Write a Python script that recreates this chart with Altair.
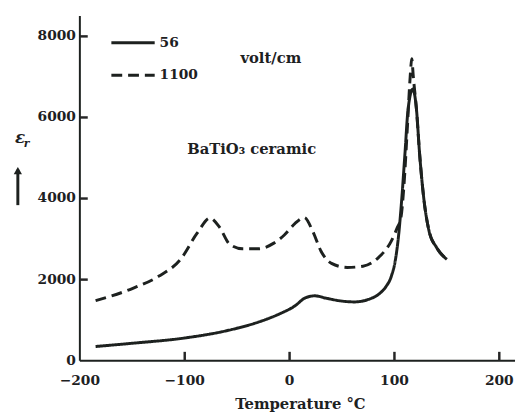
import altair as alt
import pandas as pd

# ---- data ----
temp_56 = [-185, -150, -100, -60, -30, -10, 5, 15, 24, 35, 50, 62, 75, 85, 92, 97, 101, 104, 107, 110, 113, 117.5, 121, 124, 128, 133, 140, 150]
eps_56 = [350, 430, 560, 740, 950, 1150, 1350, 1550, 1600, 1540, 1470, 1450, 1510, 1640, 1830, 2080, 2500, 3100, 4000, 5100, 6200, 6700, 6200, 5100, 4000, 3200, 2800, 2500]

temp_1100 = [-185, -150, -125, -104, -88, -76, -67, -57, -45, -30, -15, -5, 5, 14, 22, 30, 40, 55, 70, 85, 97, 103, 106, 109, 112, 115, 116.5, 118, 121, 124, 128, 133, 140, 150]
eps_1100 = [1480, 1780, 2080, 2500, 3150, 3520, 3300, 2870, 2760, 2760, 2900, 3100, 3380, 3530, 3200, 2700, 2400, 2300, 2330, 2550, 2950, 3300, 3500, 4300, 5600, 7000, 7450, 7000, 6200, 5100, 4000, 3200, 2800, 2500]

x_ticks = [-200, -100, 0, 100, 200]
y_ticks = [0, 2000, 4000, 6000, 8000]
x_inner_ticks = [-100, 0, 100, 200]
y_inner_ticks = [2000, 4000, 6000, 8000]
x_title = "Temperature °C"

INK = "#1d211f"
FONT = "DejaVu Serif"
W, H = 442, 350
X_DOM = [-200, 215]
Y_DOM = [0, 8500]
PX_Y = (Y_DOM[1] - Y_DOM[0]) / H   # y data units per pixel
PX_X = (X_DOM[1] - X_DOM[0]) / W   # x data units per pixel

df = pd.concat([
    pd.DataFrame({"T": temp_56, "eps": eps_56, "field": "56"}),
    pd.DataFrame({"T": temp_1100, "eps": eps_1100, "field": "1100"}),
])

xscale = alt.Scale(domain=X_DOM, nice=False, zero=False)
yscale = alt.Scale(domain=Y_DOM, nice=False, zero=False)

curves = alt.Chart(df).mark_line(color=INK, strokeWidth=3, interpolate="monotone").encode(
    x=alt.X("T:Q", scale=xscale, axis=None),
    y=alt.Y("eps:Q", scale=yscale, axis=None),
    strokeDash=alt.StrokeDash("field:N", scale=alt.Scale(domain=["56", "1100"], range=[[1, 0], [11, 6]]), legend=None),
    detail="field:N",
)

# ---- axes drawn through the scales ----
x_dom_line = alt.Chart(pd.DataFrame({"xa": [0]})).transform_calculate(
    xl0=str(X_DOM[0]), xr0=str(X_DOM[1]), yb0="0").mark_rule(color=INK, strokeWidth=2).encode(
    x=alt.X("xl0:Q", scale=xscale, axis=None), x2="xr0:Q",
    y=alt.Y("yb0:Q", scale=yscale, axis=None))
y_dom_line = alt.Chart(pd.DataFrame({"ya": [0]})).transform_calculate(
    xl1=str(X_DOM[0]), yb1=str(Y_DOM[0]), yt1=str(Y_DOM[1])).mark_rule(color=INK, strokeWidth=2).encode(
    x=alt.X("xl1:Q", scale=xscale, axis=None),
    y=alt.Y("yb1:Q", scale=yscale, axis=None), y2="yt1:Q")

xt = alt.Chart(pd.DataFrame({"tx": x_inner_ticks})).transform_calculate(
    tb="0", tt=str(9 * PX_Y)).mark_rule(color="#262626", strokeWidth=2.5).encode(
    x=alt.X("tx:Q", scale=xscale, axis=None),
    y=alt.Y("tb:Q", scale=yscale, axis=None), y2="tt:Q")
yt = alt.Chart(pd.DataFrame({"ty": y_inner_ticks})).transform_calculate(
    tl=str(X_DOM[0]), tr=str(X_DOM[0] + 8 * PX_X)).mark_rule(color="#262626", strokeWidth=2.5).encode(
    y=alt.Y("ty:Q", scale=yscale, axis=None),
    x=alt.X("tl:Q", scale=xscale, axis=None), x2="tr:Q")

xl = alt.Chart(pd.DataFrame({"lx": x_ticks})).transform_calculate(
    ly=str(-21 * PX_Y)).mark_text(font=FONT, fontSize=14, fontWeight="bold", color=INK,
                                  align="center", baseline="middle").encode(
    x=alt.X("lx:Q", scale=xscale, axis=None),
    y=alt.Y("ly:Q", scale=yscale, axis=None),
    text=alt.Text("lx:Q", format="d"))
yl = alt.Chart(pd.DataFrame({"lyv": y_ticks})).transform_calculate(
    lxv=str(X_DOM[0] - 4 * PX_X)).mark_text(font=FONT, fontSize=14, fontWeight="bold", color=INK,
                                            align="right", baseline="middle").encode(
    y=alt.Y("lyv:Q", scale=yscale, axis=None),
    x=alt.X("lxv:Q", scale=xscale, axis=None),
    text=alt.Text("lyv:Q", format="d"))

one = pd.DataFrame({"a": [0]})

def rule(x1, x2, y1, y2, dash=None):
    kw = dict(color=INK, strokeWidth=3)
    if dash:
        kw["strokeDash"] = dash
    return alt.Chart(one).mark_rule(**kw).encode(
        x=alt.value(x1), x2=alt.value(x2), y=alt.value(y1), y2=alt.value(y2))

def txt(s, x, y, size=15, align="left", style="normal", weight="bold"):
    return alt.Chart(one).mark_text(font=FONT, fontSize=size, align=align, baseline="middle",
                                    color=INK, fontStyle=style, fontWeight=weight).encode(
        x=alt.value(x), y=alt.value(y), text=alt.value(s))

ttitle = txt(x_title, 224, 394, align="center")
leg_solid = rule(32, 76, 27, 27)
leg_dash = rule(32, 76, 60, 60, dash=[11, 6])
t56 = txt("56", 81, 27, size=14)
t1100 = txt("1100", 81, 60, size=14)
tvolt = txt("volt/cm", 194, 43, align="center")
tbat = txt("BaTiO₃ ceramic", 109, 135)
teps = txt("ε", -66, 124, size=17, style="italic")
tr = txt("r", -57, 130, size=11, style="italic")
shaft = rule(-63, -63, 156, 192)
head = alt.Chart(one).mark_point(shape="triangle-up", filled=True, color=INK, size=70, opacity=1).encode(
    x=alt.value(-63), y=alt.value(157))

chart = alt.layer(
    curves, x_dom_line, y_dom_line, xt, yt, xl, yl, ttitle,
    leg_solid, leg_dash, t56, t1100, tvolt, tbat, teps, tr, shaft, head,
).properties(
    width=W, height=H,
    background="white",
    autosize=alt.AutoSizeParams(type="none"),
    padding={"left": 73, "top": 5, "right": 2, "bottom": 57},
).configure_view(stroke=None)

chart.save("out.html", embed_options={"renderer": "svg", "actions": False})
